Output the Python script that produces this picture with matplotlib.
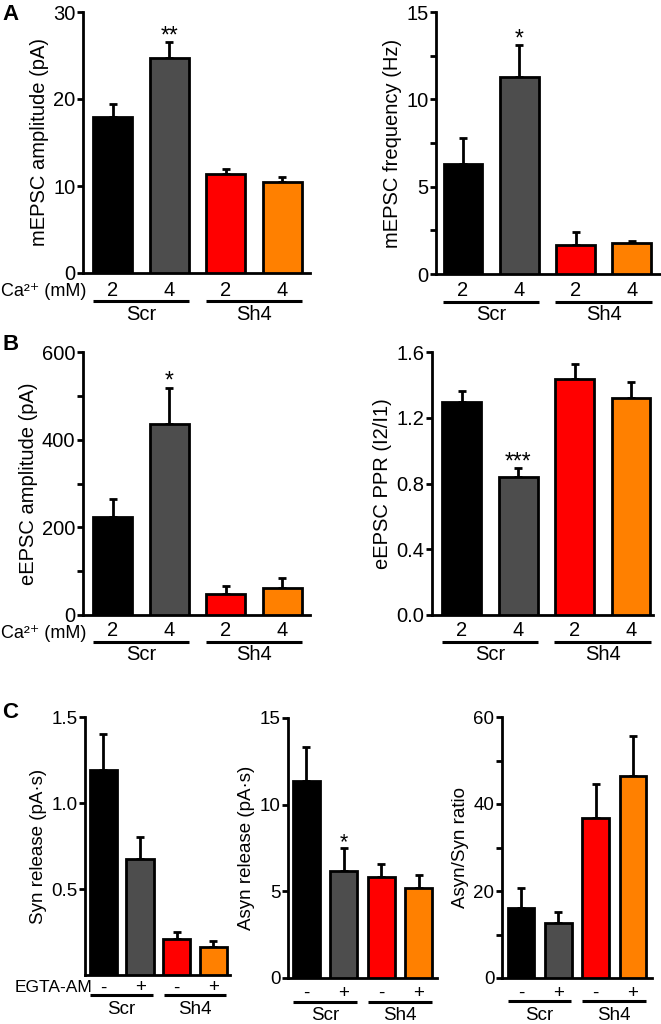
# bar chart panels: mEPSC / eEPSC / release, Scr vs Sh4
import matplotlib
matplotlib.use('Agg')
import matplotlib.pyplot as plt
from matplotlib.ticker import MultipleLocator, FormatStrFormatter
from matplotlib.transforms import ScaledTranslation

plt.rcParams['font.family'] = ['Liberation Sans', 'DejaVu Sans']

W, H = 661, 1024
LW = 2.0

# data
colors = ['#000000', '#4d4d4d', '#ff0000', '#ff8000']
groups = ['Scr', 'Sh4']
ca_labels = ['2', '4', '2', '4']
egta_labels = ['-', '+', '-', '+']

mepsc_amp = [17.9, 24.7, 11.4, 10.5]
mepsc_amp_err = [1.5, 1.8, 0.5, 0.5]

mepsc_freq = [6.3, 11.3, 1.66, 1.77]
mepsc_freq_err = [1.5, 1.8, 0.74, 0.13]

eepsc_amp = [224, 436, 48, 62]
eepsc_amp_err = [41, 82, 18, 22]

eepsc_ppr = [1.296, 0.84, 1.436, 1.32]
eepsc_ppr_err = [0.064, 0.054, 0.091, 0.10]

syn_release = [1.19, 0.674, 0.21, 0.163]
syn_release_err = [0.21, 0.126, 0.04, 0.035]

asyn_release = [11.37, 6.17, 5.8, 5.2]
asyn_release_err = [1.93, 1.33, 0.8, 0.75]

asyn_syn_ratio = [16.1, 12.6, 36.8, 46.4]
asyn_syn_ratio_err = [4.6, 2.6, 7.8, 9.2]

fig = plt.figure(figsize=(W / 100, H / 100), dpi=100)


def px_axes(left, top, right, bottom):
  return fig.add_axes([left / W, 1 - bottom / H, (right - left) / W, (bottom - top) / H])


def below(ax, x, dy_px, s, fs):
  # text centred dy_px pixels under the x axis
  ax.annotate(s, xy=(x, 0), xycoords=ax.get_xaxis_transform(),
              xytext=(0, -dy_px * 0.72), textcoords='offset points',
              ha='center', va='center', fontsize=fs, annotation_clip=False)


def panel(box, xlim, vals, errs, ylim, major, minor, ylabel, labels, offs,
          width=0.69, stars=None, hide_zero=False, fs=14.5):
  ax = px_axes(*box)
  x = list(range(len(vals)))
  ax.bar(x, vals, width=width, color=colors, edgecolor='black', linewidth=LW, zorder=3)
  ax.errorbar(x, vals, yerr=[[0] * len(errs), errs], fmt='none', ecolor='black',
              elinewidth=LW, capsize=2.8, capthick=LW, zorder=2)
  ax.set_xlim(*xlim)
  ax.yaxis.set_major_locator(MultipleLocator(major))
  if minor:
    ax.yaxis.set_minor_locator(MultipleLocator(minor))
  for s in ['top', 'right']:
    ax.spines[s].set_visible(False)
  for s in ['left', 'bottom']:
    ax.spines[s].set_linewidth(LW)
  ax.tick_params(axis='y', which='both', length=4, width=LW, pad=1.5, labelsize=fs)
  ax.set_xticks([])
  ax.set_ylabel(ylabel, fontsize=fs, labelpad=3)
  if hide_zero:
    ax.set_yticks([t for t in ax.get_yticks() if 0 < t <= ylim[1] + 1e-9])
  ax.set_ylim(*ylim)

  lab_dy, line_dy, grp_dy = offs
  for i, s in enumerate(labels):
    below(ax, i, lab_dy, s, fs)
  tr = ax.get_xaxis_transform() + ScaledTranslation(0, -line_dy / 100, fig.dpi_scale_trans)
  for g, name in enumerate(groups):
    x0, x1 = 2 * g - 0.36, 2 * g + 1.35
    ax.plot([x0, x1], [0, 0], color='black', lw=2.2, clip_on=False,
            solid_capstyle='butt', transform=tr)
    below(ax, 2 * g + 0.5, grp_dy, name, fs)

  if stars:
    i, s = stars
    ax.annotate(s, xy=(i, vals[i] + errs[i]), xytext=(0, 0), textcoords='offset points',
                ha='center', va='baseline', fontsize=fs + 2)
  return ax


# A
panel((83, 12, 310, 273), (-0.53, 3.49), mepsc_amp, mepsc_amp_err, (0, 30), 10, None,
      'mEPSC amplitude (pA)', ca_labels, (17, 28, 41), stars=(1, '**'))
panel((436, 12, 660, 274), (-0.48, 3.50), mepsc_freq, mepsc_freq_err, (0, 15), 5, 2.5,
      'mEPSC frequency (Hz)', ca_labels, (17, 28, 41), stars=(1, '*'))

# B
panel((83, 352, 310, 615), (-0.53, 3.49), eepsc_amp, eepsc_amp_err, (0, 600), 200, 100,
      'eEPSC amplitude (pA)', ca_labels, (15, 27, 40), stars=(1, '*'))
ax_ppr = panel((432, 352, 653, 615), (-0.53, 3.39), eepsc_ppr, eepsc_ppr_err, (0, 1.6), 0.4, None,
               'eEPSC PPR (I2/I1)', ca_labels, (15, 27, 40), stars=(1, '***'))
ax_ppr.yaxis.set_major_formatter(FormatStrFormatter('%.1f'))

# C
panel((85, 717, 230, 975), (-0.5, 3.45), syn_release, syn_release_err, (0, 1.5), 0.5, None,
      'Syn release (pA\u00b7s)', egta_labels, (13, 20, 35), width=0.74, hide_zero=True, fs=13.5)
panel((288, 718, 437, 978), (-0.49, 3.48), asyn_release, asyn_release_err, (0, 15), 5, None,
      'Asyn release (pA\u00b7s)', egta_labels, (15, 24, 37), width=0.72, stars=(1, '*'), fs=13.5)
panel((502, 717, 652, 978), (-0.51, 3.51), asyn_syn_ratio, asyn_syn_ratio_err, (0, 60), 20, 10,
      'Asyn/Syn ratio', egta_labels, (15, 23, 37), width=0.72, fs=13.5)

# row labels under the left panels
fig.text(1 / W, 1 - 292 / H, 'Ca\u00b2\u207a (mM)', ha='left', va='center', fontsize=13)
fig.text(1 / W, 1 - 633 / H, 'Ca\u00b2\u207a (mM)', ha='left', va='center', fontsize=13)
fig.text(92 / W, 1 - 988 / H, 'EGTA-AM', ha='right', va='center', fontsize=12.5)

# panel letters
for letter, y in [('A', 15), ('B', 345), ('C', 713)]:
  fig.text(2 / W, 1 - y / H, letter, ha='left', va='center', fontsize=16, fontweight='bold')

fig.savefig('out.png', dpi=100)
